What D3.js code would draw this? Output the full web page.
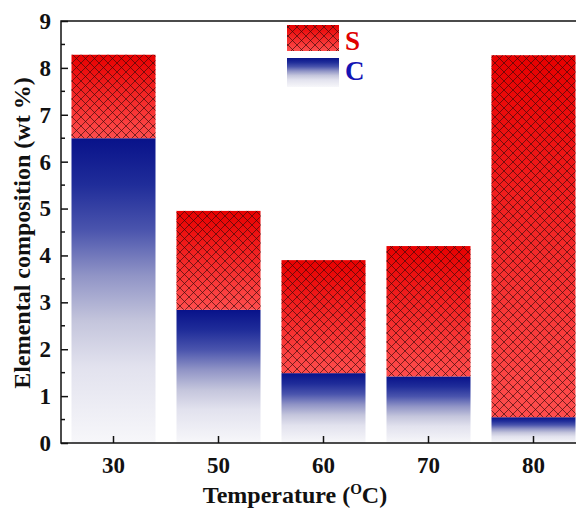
<!DOCTYPE html>
<html>
<head>
<meta charset="utf-8">
<script src="https://cdn.jsdelivr.net/npm/d3@7"></script>
<style>
  body { margin: 0; background: #fff; }
  svg { display: block; }
  text { font-family: "Liberation Serif", "Times New Roman", serif; font-weight: bold; }
</style>
</head>
<body>
<svg id="chart" width="576" height="510"></svg>
<script>
// Elemental composition (wt %) by temperature
const categories = ["30", "50", "60", "70", "80"];
const carbon = [6.5, 2.84, 1.49, 1.42, 0.55];
const sulfur = [1.78, 2.11, 2.41, 2.78, 7.72];
const yTicks = [0, 1, 2, 3, 4, 5, 6, 7, 8, 9];

const svg = d3.select("#chart");
const margin = { left: 61, top: 21, right: -10, bottom: 67 };
const W = 576, H = 510;
const x0 = margin.left, x1 = W - margin.right;
const y0 = H - margin.bottom, y1 = margin.top;

const x = d3.scaleBand().domain(categories).range([x0, x1]).paddingInner(0.2).paddingOuter(0.1);
const y = d3.scaleLinear().domain([0, 9]).range([y0, y1]);

const defs = svg.append("defs");

// red gradient for S segments
const gS = defs.append("linearGradient").attr("id", "gradS").attr("x1", 0).attr("y1", 0).attr("x2", 0).attr("y2", 1);
gS.append("stop").attr("offset", 0).attr("stop-color", "#e80000");
gS.append("stop").attr("offset", 1).attr("stop-color", "#ff4d4d");

// blue-to-white gradient for C segments
const gC = defs.append("linearGradient").attr("id", "gradC").attr("x1", 0).attr("y1", 0).attr("x2", 0).attr("y2", 1);
[[0, "#08128a"], [0.15, "#1f2c99"], [0.3, "#4a54ad"], [0.45, "#9094c6"],
 [0.6, "#c4c5dc"], [0.75, "#e2e2ee"], [1, "#f7f7fa"]].forEach(([o, c]) =>
  gC.append("stop").attr("offset", o).attr("stop-color", c));

// cross-hatch pattern
const pat = defs.append("pattern").attr("id", "hatch").attr("patternUnits", "userSpaceOnUse")
  .attr("width", 9).attr("height", 9);
pat.append("path")
  .attr("d", "M0,0L9,9M9,0L0,9M-1,8L1,10M8,-1L10,1M-1,1L1,-1M8,10L10,8")
  .attr("stroke", "#3a0a0a").attr("stroke-opacity", 0.75).attr("stroke-width", 0.9).attr("fill", "none");

const bw = x.bandwidth();

// C segments
svg.append("g").selectAll("rect").data(categories).join("rect")
  .attr("x", d => x(d))
  .attr("y", (d, i) => y(carbon[i]))
  .attr("width", bw)
  .attr("height", (d, i) => y(0) - y(carbon[i]))
  .attr("fill", "url(#gradC)");

// S segments stacked on top of C
const sG = svg.append("g");
sG.selectAll("rect.s").data(categories).join("rect").attr("class", "s")
  .attr("x", d => x(d))
  .attr("y", (d, i) => y(carbon[i] + sulfur[i]))
  .attr("width", bw)
  .attr("height", (d, i) => y(carbon[i]) - y(carbon[i] + sulfur[i]))
  .attr("fill", "url(#gradS)");
sG.selectAll("rect.h").data(categories).join("rect").attr("class", "h")
  .attr("x", d => x(d))
  .attr("y", (d, i) => y(carbon[i] + sulfur[i]))
  .attr("width", bw)
  .attr("height", (d, i) => y(carbon[i]) - y(carbon[i] + sulfur[i]))
  .attr("fill", "url(#hatch)");

// frame
svg.append("rect").attr("x", x0).attr("y", y1).attr("width", x1 - x0).attr("height", y0 - y1)
  .attr("fill", "none").attr("stroke", "#111").attr("stroke-width", 1.5);

// y axis (ticks pointing inward)
const yAxis = d3.axisLeft(y).tickValues(yTicks).tickSizeInner(-7).tickSizeOuter(0).tickPadding(10).tickFormat(d3.format("d"));
const ya = svg.append("g").attr("transform", `translate(${x0},0)`).call(yAxis);
ya.select(".domain").remove();
ya.selectAll("line").attr("stroke", "#111").attr("stroke-width", 1.5);
ya.selectAll("text").attr("font-size", 23).attr("fill", "#111");
// minor y ticks
svg.append("g").selectAll("line").data(d3.range(0.5, 9, 1)).join("line")
  .attr("x1", x0).attr("x2", x0 + 4).attr("y1", d => y(d)).attr("y2", d => y(d))
  .attr("stroke", "#111").attr("stroke-width", 1.5);

// x axis
const xAxis = d3.axisBottom(x).tickSizeInner(-7).tickSizeOuter(0).tickPadding(14);
const xa = svg.append("g").attr("transform", `translate(0,${y0})`).call(xAxis);
xa.select(".domain").remove();
xa.selectAll("line").attr("stroke", "#111").attr("stroke-width", 1.5);
xa.selectAll("text").attr("font-size", 23).attr("fill", "#111");

// axis titles
svg.append("text").attr("transform", `translate(30,233) rotate(-90)`)
  .attr("text-anchor", "middle").attr("font-size", 24).attr("fill", "#111")
  .text("Elemental composition (wt %)");
const xt = svg.append("text").attr("x", 295).attr("y", 503).attr("text-anchor", "middle")
  .attr("font-size", 24).attr("fill", "#111");
xt.append("tspan").text("Temperature (");
xt.append("tspan").attr("font-size", 15).attr("dy", -9).text("O");
xt.append("tspan").attr("dy", 9).text("C)");

// legend
const lg = svg.append("g");
lg.append("rect").attr("x", 287).attr("y", 25).attr("width", 52).attr("height", 26).attr("fill", "url(#gradS)");
lg.append("rect").attr("x", 287).attr("y", 25).attr("width", 52).attr("height", 26).attr("fill", "url(#hatch)");
lg.append("rect").attr("x", 287).attr("y", 58).attr("width", 52).attr("height", 29).attr("fill", "url(#gradC)");
lg.append("text").attr("x", 345).attr("y", 50).attr("font-size", 27).attr("fill", "#e00000").text("S");
lg.append("text").attr("x", 345).attr("y", 80).attr("font-size", 27).attr("fill", "#1414b4").text("C");
</script>
</body>
</html>
